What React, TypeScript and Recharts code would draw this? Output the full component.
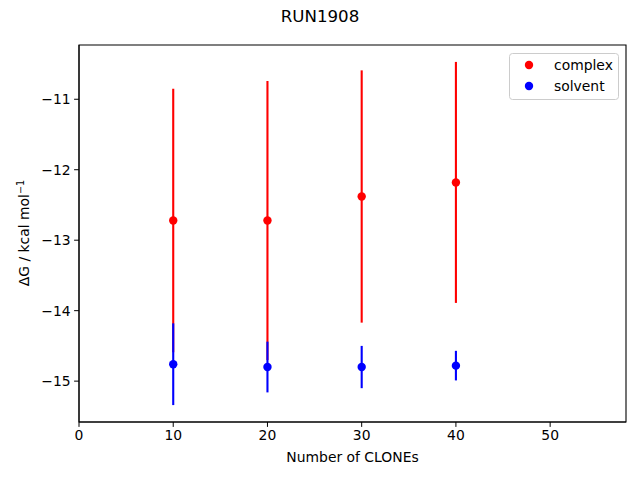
import { ErrorBar, ReferenceArea, Scatter, ScatterChart, XAxis, YAxis } from 'recharts'

const clones = [10, 20, 30, 40]
const complexDG = [-12.72, -12.72, -12.38, -12.18]
const complexErr = [1.87, 1.98, 1.79, 1.71]
const solventDG = [-14.76, -14.8, -14.8, -14.78]
const solventErr = [0.58, 0.36, 0.3, 0.21]
const xTicks = [0, 10, 20, 30, 40, 50]
const yTicks = [-15, -14, -13, -12, -11]

const complexData = clones.map((x, i) => ({ x, y: complexDG[i], err: complexErr[i] }))
const solventData = clones.map((x, i) => ({ x, y: solventDG[i], err: solventErr[i] }))

const FONT = '"DejaVu Sans", sans-serif'
const X_DOMAIN: [number, number] = [0, 58.05]
const Y_DOMAIN: [number, number] = [-15.58, -10.23]

const dot = (color: string) => (p: any) => <circle cx={p.cx} cy={p.cy} r={4.2} fill={color} />

const minus = (v: number) => String(v).replace('-', '\u2212')

function LegendBox() {
  return (
    <svg width={110} height={47} style={{ position: 'absolute', left: 509, top: 53 }}>
      <rect x={0.5} y={0.5} width={109} height={46} rx={3} fill="white" fillOpacity={0.8} stroke="#cccccc" />
      <circle cx={20} cy={12} r={4.2} fill="red" />
      <circle cx={20} cy={33} r={4.2} fill="blue" />
      <text x={45} y={17} fontSize={13.9} fontFamily={FONT} fill="black">complex</text>
      <text x={45} y={38} fontSize={13.9} fontFamily={FONT} fill="black">solvent</text>
    </svg>
  )
}

export default function App() {
  return (
    <div style={{ position: 'absolute', left: 0, top: 0, width: 640, height: 480, background: 'white' }}>
      <div
        style={{
          position: 'absolute', top: 7, left: 0, width: 640, textAlign: 'center',
          fontFamily: FONT, fontSize: 16.67, color: 'black',
        }}
      >
        RUN1908
      </div>
      <ScatterChart width={640} height={480} margin={{ top: 45, right: 14, bottom: 0, left: 0 }}>
        <XAxis
          type="number"
          dataKey="x"
          domain={X_DOMAIN}
          ticks={xTicks}
          allowDataOverflow
          height={58}
          tickSize={4.9}
          tickMargin={3.5}
          stroke="black"
          tick={{ fill: 'black', fontSize: 13.9, fontFamily: FONT }}
          label={{ value: 'Number of CLONEs', position: 'insideBottom', offset: 18, fill: 'black', fontSize: 13.9, fontFamily: FONT }}
        />
        <YAxis
          type="number"
          dataKey="y"
          domain={Y_DOMAIN}
          ticks={yTicks}
          allowDataOverflow
          width={79}
          tickSize={4.9}
          tickMargin={3.5}
          stroke="black"
          tickFormatter={minus}
          tick={{ fill: 'black', fontSize: 13.9, fontFamily: FONT }}
          label={{
            content: () => (
              <text
                x={0}
                y={0}
                transform="translate(29 233) rotate(-90)"
                textAnchor="middle"
                fontSize={13.9}
                fontFamily={FONT}
                fill="black"
              >
                ΔG / kcal mol
                <tspan dy={-5} fontSize={9.7}>{'\u22121'}</tspan>
              </text>
            ),
          }}
        />
        <ReferenceArea
          x1={X_DOMAIN[0]}
          x2={X_DOMAIN[1]}
          y1={Y_DOMAIN[0]}
          y2={Y_DOMAIN[1]}
          fill="none"
          stroke="black"
          strokeWidth={1.1}
        />
        <Scatter name="complex" data={complexData} fill="red" shape={dot('red')} isAnimationActive={false}>
          <ErrorBar dataKey="err" direction="y" width={0} stroke="red" strokeWidth={2.1} isAnimationActive={false} />
        </Scatter>
        <Scatter name="solvent" data={solventData} fill="blue" shape={dot('blue')} isAnimationActive={false}>
          <ErrorBar dataKey="err" direction="y" width={0} stroke="blue" strokeWidth={2.1} isAnimationActive={false} />
        </Scatter>
      </ScatterChart>
      <LegendBox />
    </div>
  )
}
